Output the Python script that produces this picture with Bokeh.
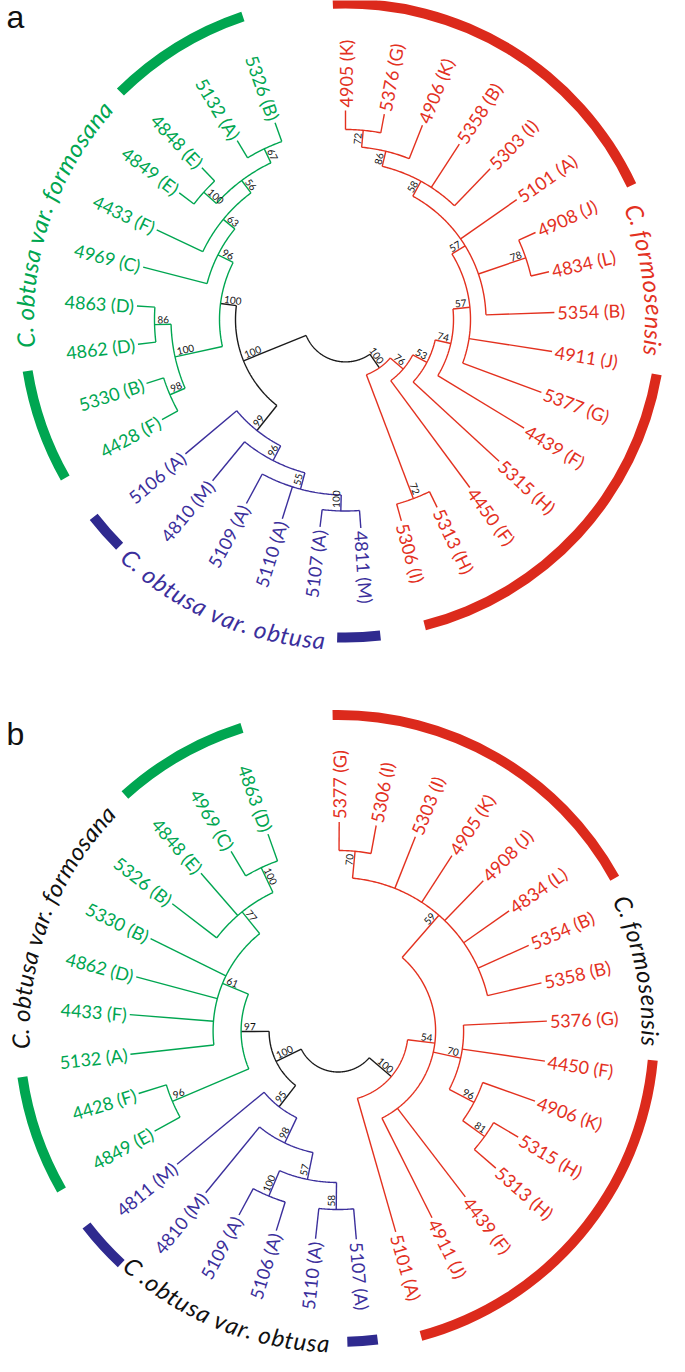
import math
from bokeh.plotting import figure
from bokeh.layouts import column
from bokeh.models import Range1d, ColumnDataSource, Label
from bokeh.embed import file_html
from bokeh.resources import INLINE
from bokeh.core.properties import value

FONT = "Lato"
LINE_COLORS = {"k": "#1a1a1a", "g": "#00a651", "b": "#3b2f9c", "r": "#e3311f"}
BAR_COLORS = {"g": "#00a651", "b": "#2f2a8f", "r": "#dc2a1c"}

# ---------------- panel a ----------------
A_LEAF = ["5326 (B)", "5132 (A)", "4848 (E)", "4849 (E)", "4433 (F)", "4969 (C)", "4863 (D)", "4862 (D)",
          "5330 (B)", "4428 (F)", "5106 (A)", "4810 (M)", "5109 (A)", "5110 (A)", "5107 (A)", "4811 (M)",
          "5306 (I)", "5313 (H)", "4450 (F)", "5315 (H)", "4439 (F)", "5377 (G)", "4911 (J)", "5354 (B)",
          "4834 (L)", "4908 (J)", "5101 (A)", "5303 (I)", "5358 (B)", "4906 (K)", "5376 (G)", "4905 (K)"]
A_LEAF_PARENT = ["G67", "G67", "GE", "GE", "G63", "G96", "G86", "G86",
                 "G98", "G98", "B99", "B96", "B55", "B55", "B100", "B100",
                 "R72b", "R72b", "R76", "R53", "R74", "R57l", "R57l", "R57u",
                 "R78", "R78", "R57u", "R58", "R58", "R86", "R72t", "R72t"]
A_LEAF_ANGLE = [109.7, 121.2, 133.4, 142.7, 154.6, 165.5, 176.3, 186.8,
                197.8, 208.6, 220.0, 230.5, 241.7, 252.4, 263.0, 274.2,
                285.5, 296.0, 306.5, 317.3, 328.7, 339.6, 351.2, 361.9,
                373.2, 384.6, 395.0, 406.2, 417.0, 428.4, 439.3, 450.0]
A_NODE = ["root", "L", "G", "G96", "G63", "G56", "G67", "GE", "GD", "G86", "G98",
          "B99", "B96", "B55", "B100",
          "R", "R72b", "R76", "R53", "R74", "R57l", "R57u", "R78", "R58", "R86", "R72t"]
A_NODE_PARENT = [None, "root", "L", "G", "G96", "G63", "G56", "G56", "G", "GD", "GD",
                 "L", "B99", "B96", "B55",
                 "root", "R", "R", "R76", "R53", "R74", "R57l", "R57u", "R57u", "R58", "R86"]
A_NODE_RADIUS = [42.4, 110, 126, 143, 158, 173.5, 189, 190.5, 174.5, 191, 191,
                 142, 158.5, 175.5, 191.5,
                 59, 191.5, 76, 92, 108, 125, 140.5, 190.5, 157.5, 173, 190]
A_NODE_SUPPORT = ["", "100", "100", "96", "63", "56", "67", "100", "100", "86", "98",
                  "99", "96", "55", "100",
                  "100", "72", "76", "53", "74", "57", "57", "78", "58", "86", "72"]
A_NODE_CLADE = ["k", "k", "g", "g", "g", "g", "g", "g", "g", "g", "g",
                "b", "b", "b", "b",
                "r", "r", "r", "r", "r", "r", "r", "r", "r", "r", "r"]
A_TIP_R = 209
A_BAR_CLADE = ["g", "g", "b", "b", "r", "r"]
A_BAR_START = [108.7, 189.2, 218.1, 268.5, 25.1, 284.5]
A_BAR_END = [134.7, 209.5, 225.1, 276.3, 92.3, 350.0]
A_BAR_R = [320, 322, 320, 318, 316, 316]
A_CLADE_TEXT = ["C. obtusa var. formosana", "C. obtusa var. obtusa", "C. formosensis"]
A_CLADE_KEY = ["g", "b", "r"]
A_CLADE_MID = [161.5, 246.5, 7.5]
A_CLADE_R = [321, 321, 309]
A_CLADE_DIR = ["cw", "ccw", "cw"]

# ---------------- panel b ----------------
B_LEAF = ["4863 (D)", "4969 (C)", "4848 (E)", "5326 (B)", "5330 (B)", "4862 (D)", "4433 (F)", "5132 (A)",
          "4428 (F)", "4849 (E)", "4811 (M)", "4810 (M)", "5109 (A)", "5106 (A)", "5110 (A)", "5107 (A)",
          "5101 (A)", "4911 (J)", "4439 (F)", "5313 (H)", "5315 (H)", "4906 (K)", "4450 (F)", "5376 (G)",
          "5358 (B)", "5354 (B)", "4834 (L)", "4908 (J)", "4905 (K)", "5303 (I)", "5306 (I)", "5377 (G)"]
B_LEAF_PARENT = ["G100", "G100", "G77", "G77", "G61", "G61", "G61", "G61",
                 "G96", "G96", "B95", "B98", "B100", "B100", "B58", "B58",
                 "R", "R54", "R54", "R81", "R81", "R96", "R70b", "R70b",
                 "R59", "R59", "R59", "R59", "R59", "R59", "R70", "R70"]
B_LEAF_ANGLE = [109.6, 120.8, 131.0, 142.5, 153.8, 165.0, 175.5, 186.4,
                197.4, 208.6, 219.6, 230.7, 241.7, 252.8, 263.8, 275.0,
                286.0, 296.7, 307.5, 319.0, 329.5, 340.4, 351.7, 362.7,
                373.3, 384.2, 395.1, 406.0, 417.0, 428.3, 439.5, 449.7]
B_NODE = ["root", "L", "G97", "G61", "G77", "G100", "G96",
          "B95", "B98", "B57", "B100", "B58",
          "R", "R54", "R70b", "R96", "R81", "R59", "R70"]
B_NODE_PARENT = [None, "root", "L", "G97", "G61", "G77", "G97",
                 "L", "B95", "B98", "B57", "B57",
                 "root", "R", "R54", "R70b", "R96", "R54", "R59"]
B_NODE_RADIUS = [41, 69, 97, 125, 153, 180.5, 180,
                 96, 124, 151.5, 179, 178.5,
                 70, 97.5, 125.5, 153.5, 180.5, 153.5, 180.5]
B_NODE_SUPPORT = ["", "100", "97", "61", "77", "100", "96",
                  "95", "98", "57", "100", "58",
                  "100", "54", "70", "96", "81", "59", "70"]
B_NODE_CLADE = ["k", "k", "g", "g", "g", "g", "g",
                "b", "b", "b", "b", "b",
                "r", "r", "r", "r", "r", "r", "r"]
B_TIP_R = 209
B_BAR_CLADE = ["g", "g", "b", "b", "r", "r"]
B_BAR_START = [107.6, 188.3, 217.7, 271.7, 28.9, 285.2]
B_BAR_END = [132.1, 209.9, 227.0, 277.3, 91.0, 354.7]
B_BAR_R = [318, 319, 318, 311, 316, 316]
B_CLADE_TEXT = ["C. obtusa var. formosana", "C .obtusa var. obtusa", "C. formosensis"]
B_CLADE_KEY = ["k", "k", "k"]
B_CLADE_MID = [159.5, 248.0, 11.3]
B_CLADE_R = [318, 312, 313]
B_CLADE_DIR = ["cw", "ccw", "cw"]

CHAR_EM = {"C": 0.64, ".": 0.24, " ": 0.25, "o": 0.56, "b": 0.57, "t": 0.35, "u": 0.56, "s": 0.43,
           "a": 0.53, "v": 0.51, "r": 0.38, "f": 0.33, "m": 0.84, "e": 0.53, "n": 0.56, "i": 0.25}


def polar(r, a):
    t = math.radians(a)
    return r * math.cos(t), r * math.sin(t)


def make_panel(letter, letter_top, cx_off, cy_off, leaf, leaf_parent, leaf_angle, node, node_parent,
               node_radius, node_support, node_clade, tip_r, bar_clade, bar_start, bar_end, bar_r,
               clade_text, clade_key, clade_mid, clade_r, clade_dir):
    W, H = 669, 678
    p = figure(width=W, height=H, output_backend="svg", toolbar_location=None,
               x_range=Range1d(-cx_off, W - cx_off), y_range=Range1d(cy_off - H, cy_off),
               x_axis_location=None, y_axis_location=None, min_border=0)
    p.grid.visible = False
    p.outline_line_color = None
    p.background_fill_color = "white"

    rad = dict(zip(node, node_radius))
    cl = dict(zip(node, node_clade))
    kids = {n: [] for n in node}
    for lp, la in zip(leaf_parent, leaf_angle):
        kids[lp].append(("leaf", la))
    for n, par in zip(node, node_parent):
        if par is not None:
            kids[par].append(("node", n))
    ang, span = {}, {}

    def f(n):
        if n not in ang:
            vals = [v if t == "leaf" else f(v) for t, v in kids[n]]
            span[n] = (min(vals), max(vals))
            ang[n] = (span[n][0] + span[n][1]) / 2.0
        return ang[n]

    for n in node:
        f(n)

    lines = {}

    def add(c, pts):
        d = lines.setdefault(c, ([], []))
        d[0].append([q[0] for q in pts])
        d[1].append([q[1] for q in pts])

    par_of = dict(zip(node, node_parent))
    for n in node:
        a0, a1 = span[n]
        steps = max(2, int((a1 - a0) / 0.5) + 1)
        add(cl[n], [polar(rad[n], a0 + (a1 - a0) * i / (steps - 1)) for i in range(steps)])
        if par_of[n] is not None:
            pr = par_of[n]
            add(cl[pr], [polar(rad[pr], ang[n]), polar(rad[n], ang[n])])
    for lp, la in zip(leaf_parent, leaf_angle):
        add(cl[lp], [polar(rad[lp], la), polar(tip_r, la)])
    for c, (xs, ys) in lines.items():
        p.multi_line(xs=xs, ys=ys, line_color=LINE_COLORS[c], line_width=1.4)

    # clade bars
    for c, s, e, r in zip(bar_clade, bar_start, bar_end, bar_r):
        p.annular_wedge(x=0, y=0, inner_radius=r - 5, outer_radius=r + 5,
                        start_angle=math.radians(s), end_angle=math.radians(e),
                        fill_color=BAR_COLORS[c], line_color=None)

    # leaf labels
    groups = {"left": dict(x=[], y=[], text=[], angle=[], color=[]),
              "right": dict(x=[], y=[], text=[], angle=[], color=[])}
    for name, lp, la in zip(leaf, leaf_parent, leaf_angle):
        x, y = polar(tip_r + 3, la)
        side = "right" if math.cos(math.radians(la)) >= -1e-6 else "left"
        rot = la if side == "right" else la - 180
        g = groups[side]
        g["x"].append(x); g["y"].append(y); g["text"].append(name)
        g["angle"].append(math.radians(rot)); g["color"].append(LINE_COLORS[cl[lp]])
    for side, g in groups.items():
        p.text(x="x", y="y", text="text", angle="angle", text_color="color",
               source=ColumnDataSource(g), text_align=("right" if side == "left" else "left"),
               text_baseline="middle", text_font=value(FONT), text_font_size=value("18px"))

    # support labels
    sg = {"left": dict(x=[], y=[], text=[], angle=[]), "right": dict(x=[], y=[], text=[], angle=[])}
    for n, s in zip(node, node_support):
        if not s:
            continue
        a = ang[n]
        bx, by = polar(rad[n] - 3, a)
        if math.cos(math.radians(a)) >= -1e-6:
            side, rot, up = "right", a, a + 90
        else:
            side, rot, up = "left", a - 180, a - 90
        ox, oy = polar(1.2, up)
        g = sg[side]
        g["x"].append(bx + ox); g["y"].append(by + oy); g["text"].append(s)
        g["angle"].append(math.radians(rot))
    p.text(x="x", y="y", text="text", angle="angle", source=ColumnDataSource(sg["right"]),
           text_align="right", text_baseline="bottom", text_color="#111111",
           text_font=value(FONT), text_font_size=value("10px"))
    p.text(x="x", y="y", text="text", angle="angle", source=ColumnDataSource(sg["left"]),
           text_align="left", text_baseline="bottom", text_color="#111111",
           text_font=value(FONT), text_font_size=value("10px"))

    # clade labels along the arc
    fs = 24
    for txt, key, mid, r, d in zip(clade_text, clade_key, clade_mid, clade_r, clade_dir):
        widths = [CHAR_EM.get(ch, 0.5) * fs for ch in txt]
        total = sum(widths)
        wdeg = math.degrees(total / r)
        xs, ys, ts, angs = [], [], [], []
        cum = 0.0
        for ch, w in zip(txt, widths):
            off = math.degrees((cum + w / 2) / r)
            if d == "cw":
                th = mid + wdeg / 2 - off
                rot = th - 90
            else:
                th = mid - wdeg / 2 + off
                rot = th + 90
            cum += w
            if ch == " ":
                continue
            x, y = polar(r, th)
            xs.append(x); ys.append(y); ts.append(ch); angs.append(math.radians(rot))
        col = "#111111" if key == "k" else LINE_COLORS[key]
        p.text(x=xs, y=ys, text=ts, angle=angs, text_align="center", text_baseline="middle",
               text_color=col, text_font=value(FONT), text_font_style="italic",
               text_font_size=value("%dpx" % fs))

    p.add_layout(Label(x=6, y=H - letter_top, x_units="screen", y_units="screen", text=letter,
                       text_font="Liberation Sans", text_font_size="32px", text_color="#111111",
                       text_baseline="alphabetic", text_align="left"))
    return p


pa = make_panel("a", 16, 345, 319, A_LEAF, A_LEAF_PARENT, A_LEAF_ANGLE, A_NODE, A_NODE_PARENT,
                A_NODE_RADIUS, A_NODE_SUPPORT, A_NODE_CLADE, A_TIP_R, A_BAR_CLADE, A_BAR_START,
                A_BAR_END, A_BAR_R, A_CLADE_TEXT, A_CLADE_KEY, A_CLADE_MID, A_CLADE_R, A_CLADE_DIR)
pb = make_panel("b", 55, 337.6, 352.5, B_LEAF, B_LEAF_PARENT, B_LEAF_ANGLE, B_NODE, B_NODE_PARENT,
                B_NODE_RADIUS, B_NODE_SUPPORT, B_NODE_CLADE, B_TIP_R, B_BAR_CLADE, B_BAR_START,
                B_BAR_END, B_BAR_R, B_CLADE_TEXT, B_CLADE_KEY, B_CLADE_MID, B_CLADE_R, B_CLADE_DIR)

layout = column(pa, pb, spacing=0)
open("out.html", "w").write(file_html(layout, INLINE))
